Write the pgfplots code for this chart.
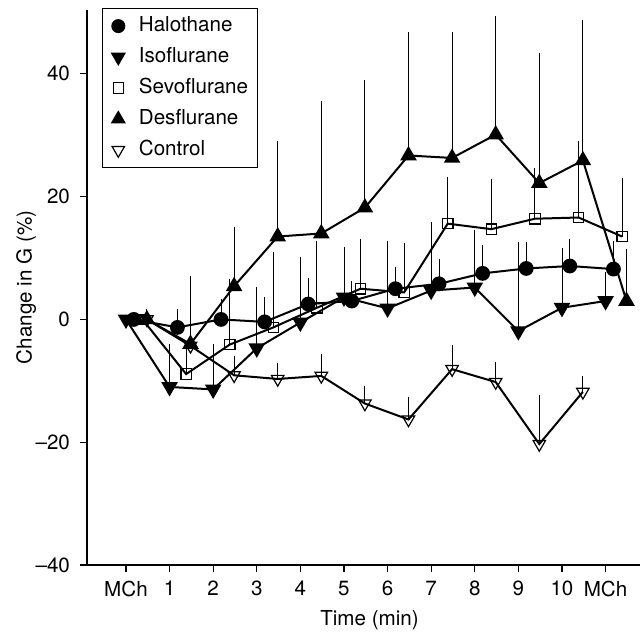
\documentclass[border=0pt]{standalone}
\usepackage{fontspec}
\setmainfont{TeX Gyre Heros}
\usepackage{pgfplots}
\pgfplotsset{compat=1.18}

% x y ey(plus)
\pgfplotstableread{
x y ey
0.18 0.0 0
1.18 -1.3 2.2
2.18 0.0 2.6
3.18 -0.4 3.3
4.18 2.5 3.5
5.18 3.0 2.5
6.18 5.0 2.9
7.18 5.8 3.3
8.18 7.5 3.9
9.18 8.3 3.6
10.18 8.7 3.7
11.18 8.2 3.9
}\halo
\pgfplotstableread{
x y ey
0 0.0 0
1 -11.0 6.3
2 -11.4 6.7
3 -4.7 9.3
4 -0.5 10.0
5 3.6 7.5
6 1.8 10.3
7 4.7 10.5
8 5.2 8.6
9 -1.9 13.8
10 1.9 9.0
11 3.0 4.0
}\iso
\pgfplotstableread{
x y ey
0.38 0.0 0
1.38 -8.9 3.4
2.38 -4.1 10.0
3.38 -1.3 11.5
4.38 1.9 10.2
5.38 5.0 7.4
6.38 4.4 7.3
7.38 15.6 6.9
8.38 14.7 7.5
9.38 16.4 7.6
10.38 16.6 11.8
11.38 13.5 8.8
}\sevo
\pgfplotstableread{
x y ey
0.48 0.0 0
1.48 -4.0 10.4
2.48 5.4 9.0
3.48 13.5 14.8
4.48 14.0 20.8
5.48 18.2 20.1
6.48 26.7 19.4
7.48 26.3 19.8
8.48 30.1 18.6
9.48 22.2 20.5
10.48 25.9 22.2
11.48 3.0 7.8
}\des
\pgfplotstableread{
x y ey
0.48 0.0 1.0
1.48 -4.3 4.9
2.48 -9.1 2.4
3.48 -9.7 1.9
4.48 -9.2 2.8
5.48 -13.7 2.2
6.48 -16.3 3.0
7.48 -8.1 3.2
8.48 -10.2 2.5
9.48 -20.3 7.2
10.48 -11.8 1.9
}\ctrl

\begin{document}
\begin{tikzpicture}
\begin{axis}[
    at={(0,0)}, anchor=south west,
    scale only axis,
    width=276.5pt, height=277.5pt,
    xmin=-0.894, xmax=11.79,
    ymin=-40, ymax=50.4,
    axis lines=left,
    axis line style={-, line width=0.9pt},
    tick align=outside,
    major tick length=3.5pt,
    tick style={black, line width=0.6pt},
    xtick={0,1,2,3,4,5,6,7,8,9,10,11},
    xticklabels={MCh,1,2,3,4,5,6,7,8,9,10,MCh},
    ytick={-40,-20,0,20,40},
    yticklabels={--40,--20,0,20,40},
    tick label style={font=\fontsize{10.3}{12}\selectfont},
    xticklabel style={yshift=-1pt},
    yticklabel style={xshift=-1.5pt},
    label style={font=\fontsize{10.3}{12}\selectfont},
    xlabel={Time (min)},
    ylabel={Change in G (\%)},
    xlabel style={xshift=3pt},
    ylabel style={at={(axis description cs:-0.11,0.5)}, anchor=center},
    legend style={
      at={(0.0266,1.0036)}, anchor=north west,
      draw=black, line width=0.6pt,
      font=\fontsize{10.3}{12}\selectfont,
      nodes={inner sep=1.5pt, text height=8pt, text depth=2.5pt},
      row sep=2pt, inner xsep=3.2pt, inner ysep=2pt
    },
    legend cell align=left,
    legend image code/.code={\path (-4.5pt,0pt) (8.5pt,0pt); \draw[#1] plot coordinates {(0pt,0pt)};},
    error bars/y dir=plus,
    error bars/y explicit,
    error bars/error bar style={line width=0.45pt, black},
    error bars/error mark options={line width=0.45pt, mark size=2.2pt, black},
]
\addlegendimage{only marks, mark=*, mark size=3.2pt, black}
\addlegendentry{Halothane}
\addlegendimage{only marks, mark=triangle*, mark size=3.8pt, black, mark options={rotate=180}}
\addlegendentry{Isoflurane}
\addlegendimage{only marks, mark=square, mark size=2.6pt, black, mark options={fill=white, line width=0.6pt}}
\addlegendentry{Sevoflurane}
\addlegendimage{only marks, mark=triangle*, mark size=3.8pt, black}
\addlegendentry{Desflurane}
\addlegendimage{only marks, mark=triangle, mark size=3.6pt, black, mark options={rotate=180, fill=white, line width=0.6pt}}
\addlegendentry{Control}

\addplot[forget plot, black, line width=1pt, mark=triangle, mark size=3.6pt,
  mark options={rotate=180, fill=white, line width=0.6pt}]
  table[x=x, y=y, y error=ey] {\ctrl};
\addplot[forget plot, black, line width=1pt, mark=triangle*, mark size=3.8pt,
  mark options={rotate=180}]
  table[x=x, y=y, y error=ey] {\iso};
\addplot[forget plot, black, line width=1pt, mark=square, mark size=2.6pt,
  mark options={fill=white, line width=0.6pt}]
  table[x=x, y=y, y error=ey] {\sevo};
\addplot[forget plot, black, line width=1pt, mark=*, mark size=3.2pt]
  table[x=x, y=y, y error=ey] {\halo};
\addplot[forget plot, black, line width=1pt, mark=triangle*, mark size=3.8pt]
  table[x=x, y=y, y error=ey] {\des};
\end{axis}
\pgfresetboundingbox
\path (-43.5pt,-33.5pt) rectangle (276.5pt,282.5pt);
\end{tikzpicture}
\end{document}
